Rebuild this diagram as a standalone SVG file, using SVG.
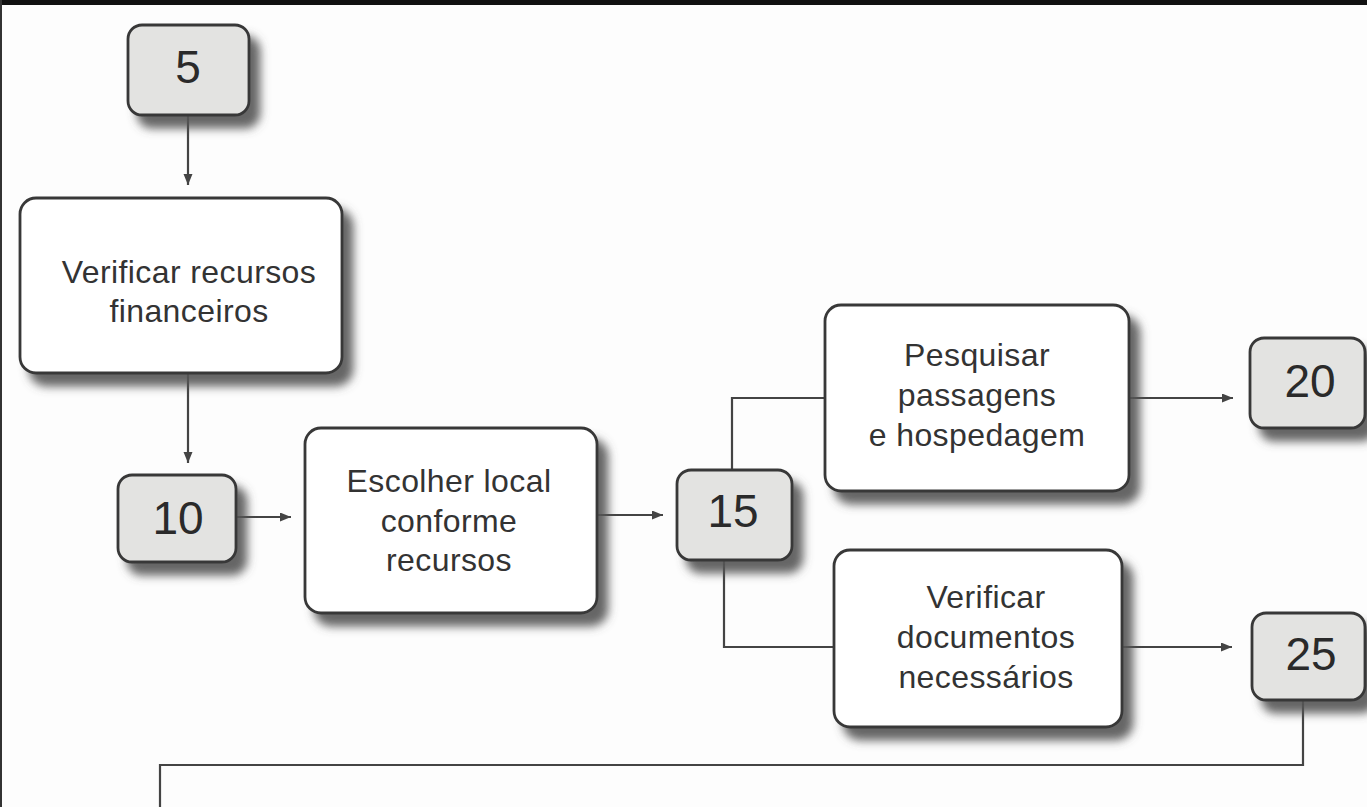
<svg xmlns="http://www.w3.org/2000/svg" width="1367" height="807" viewBox="0 0 1367 807">
<style>
.box{fill:#ffffff;stroke:#383838;stroke-width:2.8}
.num{fill:#e3e3e1;stroke:#383838;stroke-width:2.8}
.t{font-family:"Liberation Sans",Arial,sans-serif;font-size:32px;fill:#333;text-anchor:middle;letter-spacing:0.4px}
.n{font-family:"Liberation Sans",Arial,sans-serif;font-size:46px;fill:#2a2a2a;text-anchor:middle}
.c{fill:none;stroke:#444;stroke-width:2.2}
</style>
<defs>
<filter id="sh" x="-20%" y="-20%" width="160%" height="160%">
<feGaussianBlur in="SourceAlpha" stdDeviation="5"/>
<feOffset dx="10" dy="12" result="b"/>
<feFlood flood-color="#555555" flood-opacity="0.9"/>
<feComposite in2="b" operator="in" result="s"/>
<feMerge><feMergeNode in="s"/><feMergeNode in="SourceGraphic"/></feMerge>
</filter>
<marker id="ah" markerUnits="userSpaceOnUse" markerWidth="12" markerHeight="10" refX="11" refY="4.5" orient="auto">
<path d="M0,0 L11,4.5 L0,9 z" fill="#444"/>
</marker>
</defs>
<rect x="0" y="0" width="1367" height="807" fill="#fdfdfd"/>
<rect x="0" y="0" width="1367" height="5" fill="#111"/>
<rect x="0" y="0" width="2" height="807" fill="#333"/>

<g id="connectors">
<path class="c" d="M188 115 V185" marker-end="url(#ah)"/>
<path class="c" d="M188 373 V463" marker-end="url(#ah)"/>
<path class="c" d="M237 517 H291" marker-end="url(#ah)"/>
<path class="c" d="M597 515 H663" marker-end="url(#ah)"/>
<path class="c" d="M732 470 V398 H825"/>
<path class="c" d="M724 560 V647 H834"/>
<path class="c" d="M1129 398 H1233" marker-end="url(#ah)"/>
<path class="c" d="M1122 647 H1232" marker-end="url(#ah)"/>
<path class="c" d="M1303 700 V765 H160 V807"/>
</g>

<g id="n5">
<rect class="num" x="128" y="25" width="121" height="90" rx="14" filter="url(#sh)"/>
<text class="n" x="188" y="83">5</text>
</g>
<g id="verificar-recursos">
<rect class="box" x="20" y="198" width="322" height="175" rx="16" filter="url(#sh)"/>
<text class="t" x="189" y="283">Verificar recursos</text>
<text class="t" x="189" y="322">financeiros</text>
</g>
<g id="n10">
<rect class="num" x="118" y="475" width="118" height="87" rx="14" filter="url(#sh)"/>
<text class="n" x="178" y="534">10</text>
</g>
<g id="escolher-local">
<rect class="box" x="305" y="428" width="292" height="185" rx="16" filter="url(#sh)"/>
<text class="t" x="449" y="492">Escolher local</text>
<text class="t" x="449" y="532">conforme</text>
<text class="t" x="449" y="571">recursos</text>
</g>
<g id="n15">
<rect class="num" x="677" y="470" width="115" height="90" rx="14" filter="url(#sh)"/>
<text class="n" x="733" y="527">15</text>
</g>
<g id="pesquisar">
<rect class="box" x="825" y="305" width="304" height="186" rx="16" filter="url(#sh)"/>
<text class="t" x="977" y="366">Pesquisar</text>
<text class="t" x="977" y="406">passagens</text>
<text class="t" x="977" y="446">e hospedagem</text>
</g>
<g id="verificar-documentos">
<rect class="box" x="834" y="550" width="288" height="177" rx="16" filter="url(#sh)"/>
<text class="t" x="986" y="608">Verificar</text>
<text class="t" x="986" y="648">documentos</text>
<text class="t" x="986" y="688">necessários</text>
</g>
<g id="n20">
<rect class="num" x="1250" y="338" width="115" height="90" rx="14" filter="url(#sh)"/>
<text class="n" x="1310" y="397">20</text>
</g>
<g id="n25">
<rect class="num" x="1252" y="613" width="113" height="87" rx="14" filter="url(#sh)"/>
<text class="n" x="1311" y="670">25</text>
</g>
</svg>
